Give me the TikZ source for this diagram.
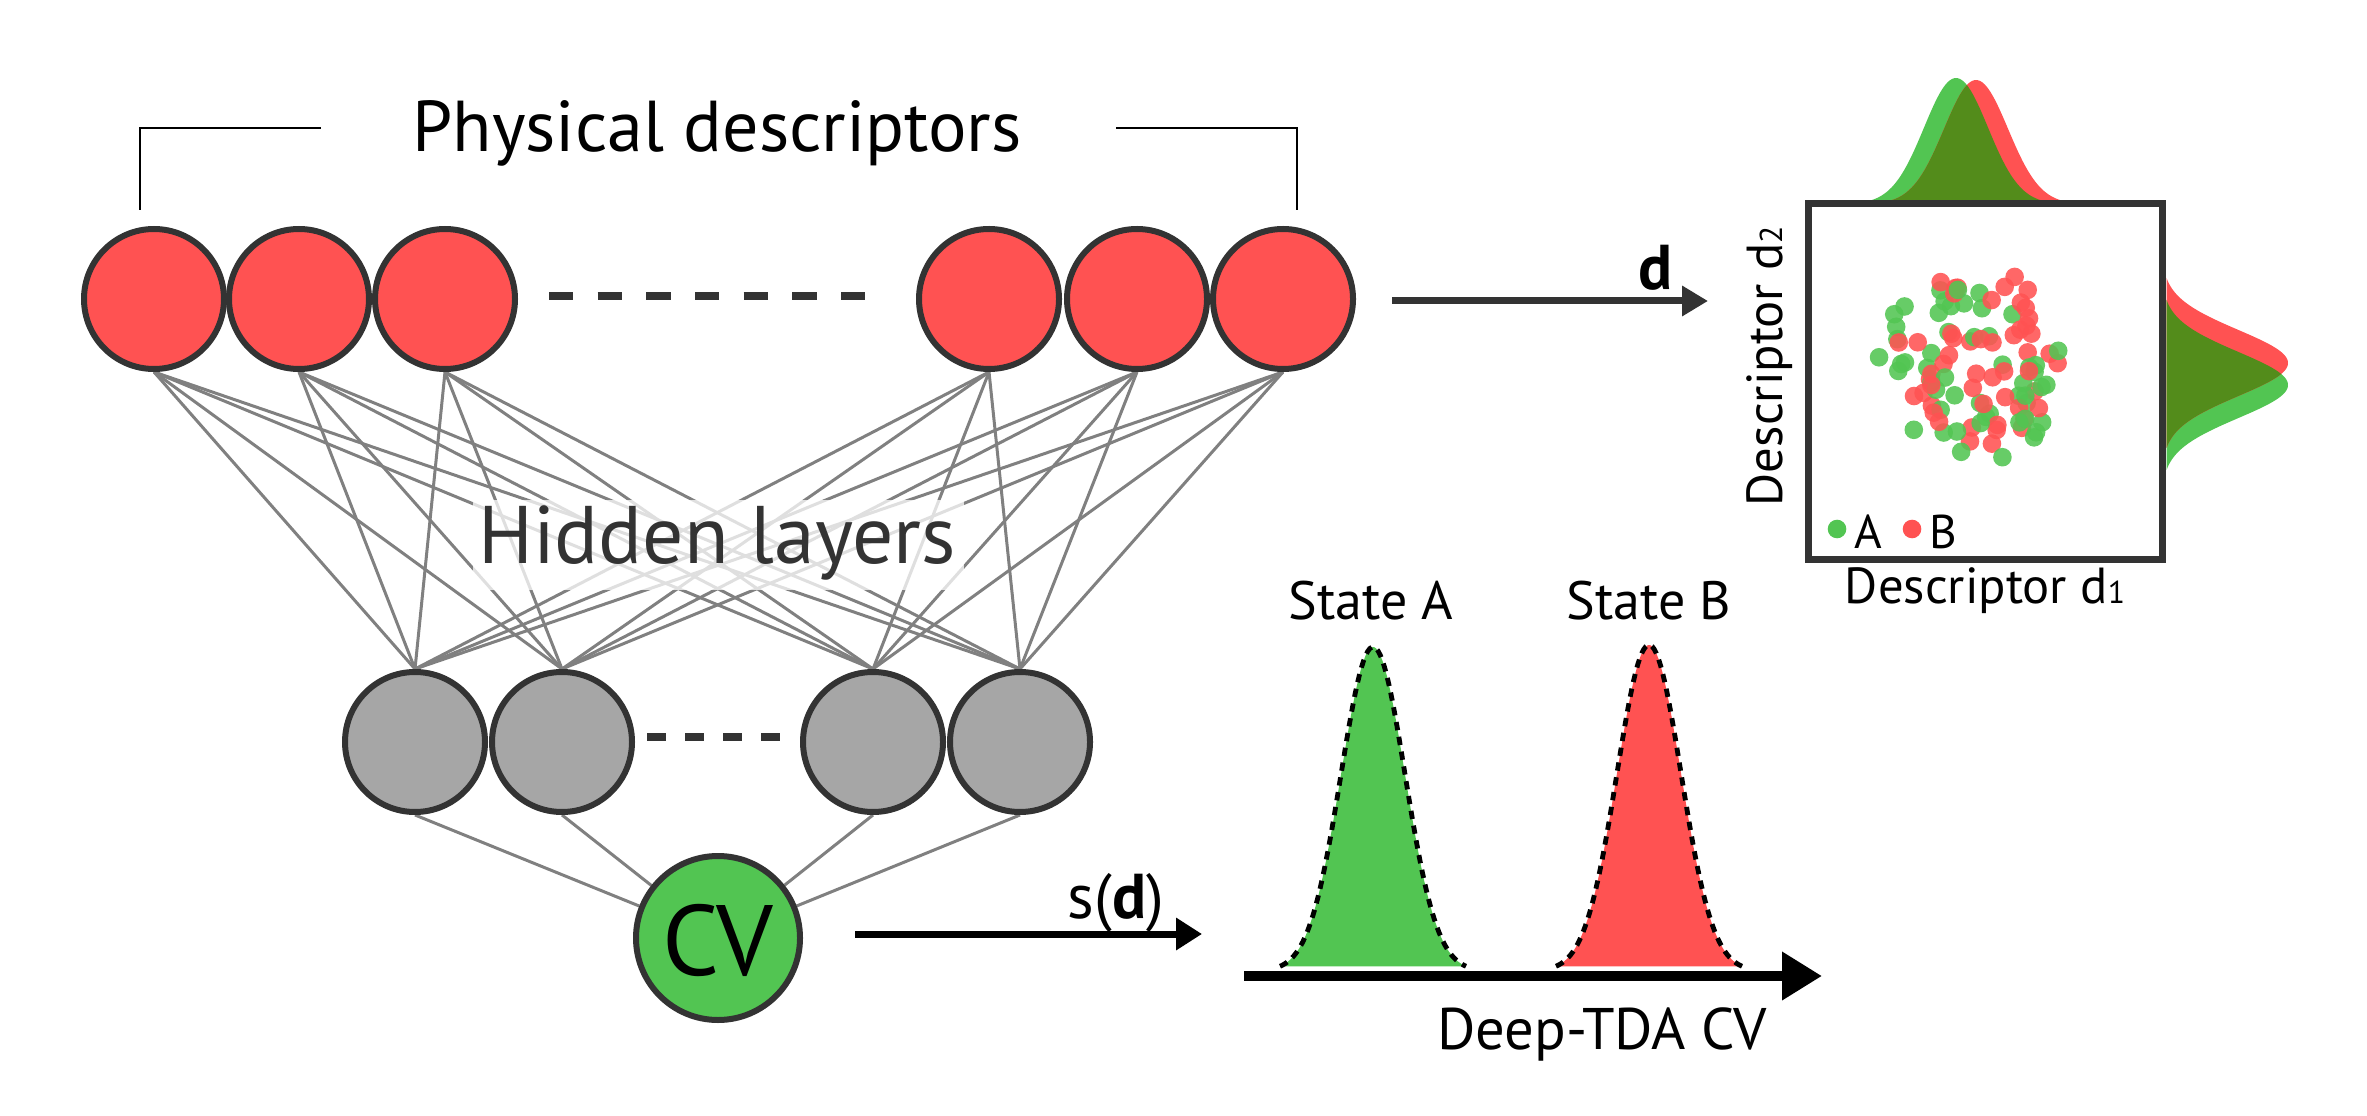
\documentclass[tikz,border=0pt]{standalone}
\usepackage{fontspec}
\setmainfont{PT Sans}
\usetikzlibrary{arrows.meta,backgrounds}
\definecolor{cred}{RGB}{255,82,82}
\definecolor{cgreen}{RGB}{82,197,82}
\definecolor{cgray}{RGB}{166,166,166}
\definecolor{cdark}{RGB}{51,51,51}
\definecolor{colive}{RGB}{83,140,27}
\definecolor{cwire}{RGB}{128,128,128}
\begin{document}
\begin{tikzpicture}[x=0.3pt,y=-0.3pt,
  neuron/.style={circle,draw=cdark,line width=1.8pt,minimum size=42pt,inner sep=0pt},
  inred/.style={neuron,fill=cred},
  hid/.style={neuron,fill=cgray},
  cvnode/.style={neuron,fill=cgreen,minimum size=49.2pt},
  wire/.style={draw=cwire,line width=0.9pt},
  bigtxt/.style={anchor=base,inner sep=0pt,font=\fontsize{21.6}{24}\selectfont},
  hidtxt/.style={anchor=base,inner sep=0pt,font=\fontsize{24.5}{27}\selectfont},
  midtxt/.style={anchor=base,inner sep=0pt,font=\fontsize{16.2}{18}\selectfont},
  axtxt/.style={anchor=base,inner sep=0pt,font=\fontsize{17.6}{20}\selectfont},
  arrtxt/.style={anchor=base,inner sep=0pt,font=\fontsize{19}{21}\selectfont},
  smalltxt/.style={anchor=base,inner sep=0pt,font=\fontsize{14.2}{16}\selectfont},
  desctxt/.style={anchor=base,inner sep=0pt,font=\fontsize{15.2}{17}\selectfont},
  dotsline/.style={draw=cdark,line width=2.2pt},
  bracket/.style={draw=black,line width=0.65pt},
  darrow/.style={draw=cdark,line width=2.1pt,-{Triangle[length=7.8pt,width=8.7pt]}},
  sarrow/.style={draw=black,line width=2.1pt,-{Triangle[length=7.8pt,width=9.3pt]}},
  axisline/.style={draw=black,line width=3pt,-{Triangle[length=12pt,width=13.8pt]}},
  peakline/.style={draw=black,line width=1.45pt,dash pattern=on 2.5pt off 2pt},
  dotA/.style={fill=cgreen,fill opacity=0.88},
  dotB/.style={fill=cred,fill opacity=0.88},
  framebox/.style={draw=cdark,line width=2.1pt}]
\path[use as bounding box] (0,0) rectangle (2367,1116);

% ---------- input layer ----------
\node[inred] (r1) at (154,299) {};
\node[inred] (r2) at (299,299) {};
\node[inred] (r3) at (445,299) {};
\node[inred] (r4) at (989,299) {};
\node[inred] (r5) at (1137,299) {};
\node[inred] (r6) at (1283,299) {};
\coordinate (rdotsA) at (549,296);
\coordinate (rdotsB) at (866,296);
\draw[dotsline,dash pattern=on 7.3pt off 7.3pt] (rdotsA) -- (rdotsB);

% ---------- hidden layer ----------
\node[hid] (g1) at (415,742) {};
\node[hid] (g2) at (562,742) {};
\node[hid] (g3) at (873,742) {};
\node[hid] (g4) at (1020,742) {};
\coordinate (gdotsA) at (647,737);
\coordinate (gdotsB) at (780,737);
\draw[dotsline,dash pattern=on 5.7pt off 5.7pt] (gdotsA) -- (gdotsB);

% ---------- output ----------
\node[cvnode] (cv) at (718,938) {};
\node[anchor=base,inner sep=0pt,font=\fontsize{30}{32}\selectfont] (cvtxt) at (718,975) {CV};

\begin{pgfonlayer}{background}
  \foreach \r in {r1,r2,r3,r4,r5,r6}{
    \foreach \g in {g1,g2,g3,g4}{
      \draw[wire] (\r.south) -- (\g.north);
    }
  }
  \foreach \g in {g1,g2,g3,g4}{
    \draw[wire] (\g.south) -- (cv);
  }
  \fill[white,opacity=0.75] (473,500) rectangle (964,590);
\end{pgfonlayer}

% ---------- labels of the network ----------
\node[bigtxt] (phys) at (717,152) {Physical descriptors};
\node[hidtxt,text=cdark] (hidden) at (717,563) {Hidden layers};
\coordinate (brLa) at (140,210);
\coordinate (brLb) at (140,128);
\coordinate (brLc) at (321,128);
\coordinate (brRa) at (1116,128);
\coordinate (brRb) at (1297,128);
\coordinate (brRc) at (1297,210);
\draw[bracket] (brLa) -- (brLb) -- (brLc);
\draw[bracket] (brRa) -- (brRb) -- (brRc);

% ---------- arrows ----------
\coordinate (dA) at (1392,301);
\coordinate (dB) at (1708,301);
\draw[darrow] (dA) -- (dB);
\node[arrtxt] (dlab) at (1656,290) {\textbf{d}};
\coordinate (sA) at (855,934);
\coordinate (sB) at (1202,934);
\draw[sarrow] (sA) -- (sB);
\node[arrtxt] (slab) at (1116,918) {s(\textbf{d})};

% ---------- Deep-TDA CV distribution ----------
\fill[cgreen] plot[domain=1280:1466,samples=90] (\x,{971-324*exp(-0.5*((\x-1373)/32)^2)}) -- cycle;
\draw[peakline] plot[domain=1280:1466,samples=90] (\x,{971-324*exp(-0.5*((\x-1373)/32)^2)});
\fill[cred] plot[domain=1556:1742,samples=90] (\x,{971-326*exp(-0.5*((\x-1649)/32)^2)}) -- cycle;
\draw[peakline] plot[domain=1556:1742,samples=90] (\x,{971-326*exp(-0.5*((\x-1649)/32)^2)});
\coordinate (axA) at (1244,976);
\coordinate (axB) at (1822,976);
\draw[axisline] (axA) -- (axB);
\node[midtxt] (stA) at (1371,619) {State A};
\node[midtxt] (stB) at (1649,619) {State B};
\node[axtxt] (axlab) at (1602,1049) {Deep-TDA CV};

% ---------- scatter plot ----------
% top marginal
\fill[cgreen] plot[domain=1856:2056,samples=80] (\x,{204-126*exp(-0.5*((\x-1956)/32)^2)}) -- cycle;
\fill[cred] plot[domain=1876:2076,samples=80] (\x,{204-124*exp(-0.5*((\x-1976)/32)^2)}) -- cycle;
\begin{scope}
  \clip plot[domain=1856:2056,samples=80] (\x,{204-126*exp(-0.5*((\x-1956)/32)^2)}) -- cycle;
  \fill[colive] plot[domain=1876:2076,samples=80] (\x,{204-124*exp(-0.5*((\x-1976)/32)^2)}) -- cycle;
\end{scope}
% right marginal
\fill[cgreen] plot[domain=300:470,samples=80] ({2162+126*exp(-0.5*((\x-385)/33)^2)},\x) -- cycle;
\fill[cred] plot[domain=278:448,samples=80] ({2162+126*exp(-0.5*((\x-363)/33)^2)},\x) -- cycle;
\begin{scope}
  \clip plot[domain=300:470,samples=80] ({2162+126*exp(-0.5*((\x-385)/33)^2)},\x) -- cycle;
  \fill[colive] plot[domain=278:448,samples=80] ({2162+126*exp(-0.5*((\x-363)/33)^2)},\x) -- cycle;
\end{scope}
% dots
\pgfmathsetseed{2024}
\foreach \i in {1,...,52}{
  \pgfmathsetmacro{\ra}{97*sqrt(rnd)}
  \pgfmathsetmacro{\ta}{360*rnd}
  \fill[dotA] ({1975+\ra*cos(\ta)},{366+\ra*sin(\ta)}) circle (9.3);
  \pgfmathsetmacro{\rb}{88*sqrt(rnd)}
  \pgfmathsetmacro{\tb}{360*rnd}
  \fill[dotB] ({1985+\rb*cos(\tb)},{356+\rb*sin(\tb)}) circle (9.3);
}
\draw[framebox] (1808,204) rectangle (2162,559);
% legend
\fill[cgreen] (1837,529) circle (9.3);
\node[smalltxt] (legA) at (1868,549) {A};
\fill[cred] (1912,529) circle (9.3);
\node[smalltxt] (legB) at (1943,549) {B};
% axis labels
\node[desctxt] (dlab1) at (1985,603) {Descriptor d{\fontsize{9.5}{10}\selectfont 1}};
\node[desctxt,rotate=90] (dlab2) at (1782,366) {Descriptor d{\fontsize{9.5}{10}\selectfont 2}};
\end{tikzpicture}
\end{document}
